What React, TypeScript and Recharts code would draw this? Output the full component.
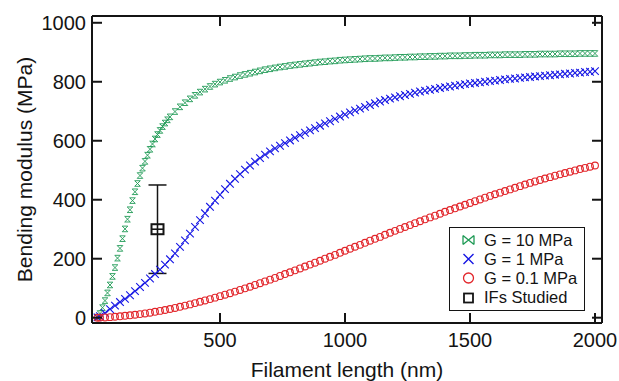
import { ScatterChart, Scatter, XAxis, YAxis, ErrorBar, Legend, Label } from 'recharts';

const FONT = '"Liberation Sans", Arial, Helvetica, sans-serif';
const GREEN = '#1e9a55';
const BLUE = '#1616e4';
const RED = '#e2262b';
const INK = '#141414';

// G = 10 MPa, fine steps where the curve is steep
const greenLengths = [
  10, 20, 30, 40, 50, 60, 70, 80, 90, 100, 110, 120, 130, 140, 150, 160, 170, 180, 190, 200,
  210, 220, 230, 240, 250, 260, 270, 280, 290, 300,
  320, 340, 360, 380, 400, 420, 440, 460, 480, 500, 520, 540, 560, 580, 600, 620, 640, 660, 680,
  700, 720, 740, 760, 780, 800, 820, 840, 860, 880, 900, 920, 940, 960, 980, 1000, 1020, 1040, 1060, 1080,
  1100, 1120, 1140, 1160, 1180, 1200, 1220, 1240, 1260, 1280, 1300, 1320, 1340, 1360, 1380, 1400, 1420, 1440, 1460, 1480,
  1500, 1520, 1540, 1560, 1580, 1600, 1620, 1640, 1660, 1680, 1700, 1720, 1740, 1760, 1780, 1800, 1820, 1840, 1860, 1880,
  1900, 1920, 1940, 1960, 1980, 2000,
];
const greenModulus = [
  2, 14, 34, 58, 84, 111, 140, 170, 202, 235, 268, 301, 334, 366, 397, 427, 455, 482, 507, 530,
  551, 571, 589, 606, 621, 635, 648, 660, 671, 681,
  699, 715, 729, 742, 754, 765, 775, 784, 792, 799, 805, 811, 816, 821, 825, 829, 833, 837, 841,
  844, 847, 850, 852, 855, 857, 859, 861, 863, 865, 867, 868, 870, 871, 873, 874, 875, 876, 877, 878,
  879, 879, 880, 881, 881, 882, 883, 883, 884, 884, 885, 885, 886, 886, 887, 887, 888, 888, 888, 889,
  889, 890, 890, 890, 891, 891, 891, 892, 892, 892, 892, 893, 893, 893, 894, 894, 894, 894, 895, 895,
  895, 895, 896, 896, 896, 896,
];

// G = 1 MPa and G = 0.1 MPa share the same lengths
const lengths = [
  10,
  20, 40, 60, 80, 100, 120, 140, 160, 180, 200,
  220, 240, 260, 280, 300, 320, 340, 360, 380, 400,
  420, 440, 460, 480, 500, 520, 540, 560, 580, 600,
  620, 640, 660, 680, 700, 720, 740, 760, 780, 800,
  820, 840, 860, 880, 900, 920, 940, 960, 980, 1000,
  1020, 1040, 1060, 1080, 1100, 1120, 1140, 1160, 1180, 1200,
  1220, 1240, 1260, 1280, 1300, 1320, 1340, 1360, 1380, 1400,
  1420, 1440, 1460, 1480, 1500, 1520, 1540, 1560, 1580, 1600,
  1620, 1640, 1660, 1680, 1700, 1720, 1740, 1760, 1780, 1800,
  1820, 1840, 1860, 1880, 1900, 1920, 1940, 1960, 1980, 2000,
];
const blueModulus = [
  1,
  5, 16, 29, 41, 53, 64, 76, 90, 104, 118,
  133, 148, 163, 180, 198, 218, 240, 262, 285, 308,
  331, 354, 376, 397, 417, 436, 454, 471, 487, 502,
  516, 529, 541, 553, 564, 574, 583, 592, 601, 610,
  619, 627, 635, 643, 651, 659, 666, 674, 682, 689,
  696, 703, 709, 715, 721, 727, 733, 738, 743, 747,
  751, 755, 759, 763, 767, 770, 773, 776, 779, 782,
  784, 787, 789, 792, 794, 796, 798, 800, 802, 804,
  806, 808, 810, 811, 813, 815, 816, 818, 819, 821,
  822, 824, 825, 827, 828, 830, 831, 833, 834, 836,
];
const redModulus = [
  0,
  0.3, 0.9, 1.8, 3.2, 4.8, 6.4, 8.1, 10, 12.1, 14.4,
  17, 20, 23, 26, 29.5, 33, 37, 41, 45, 49.5,
  54, 58.5, 63, 68, 73, 78, 83, 88.5, 94, 99.5,
  105, 111, 117, 123, 129, 135, 141.5, 148, 154, 160.5,
  167, 173.5, 180, 186.5, 193, 200, 206.5, 213, 220, 227,
  234, 240.5, 247, 254, 261, 267.5, 274, 281, 288, 294.5,
  301, 307.5, 314, 320.5, 327, 333.5, 340, 346, 352.5, 359,
  365, 371, 377, 383, 389, 395, 401, 407, 413, 418.5,
  424, 429.5, 435, 440.5, 446, 451.5, 457, 462, 467, 472,
  476.5, 481.5, 486, 490.5, 495, 499.5, 504, 508, 512, 516,
];

// IFs studied
const studiedLength = [250];
const studiedModulus = [300];
const studiedSpread = [150];

const xTicks = [500, 1000, 1500, 2000];
const yTicks = [0, 200, 400, 600, 800, 1000];
const xDomain = [-12, 2028];
const yDomain = [-18, 1023];

// plot frame (px)
const LEFT = 92;
const RIGHT = 602;
const TOP = 16;
const BOTTOM = 323;
const TICK_LEN = 10;
const LINE_W = 2;

const zip = (xs: number[], ys: number[]) => xs.map((x, i) => ({ x, y: ys[i] }));

const greenData = zip(greenLengths, greenModulus);
const blueData = zip(lengths, blueModulus);
const redData = zip(lengths, redModulus);
const studiedData = studiedLength.map((x, i) => ({ x, y: studiedModulus[i], err: studiedSpread[i] }));

const Hourglass = ({ cx, cy }: any) => {
  const h = 2.8;
  return (
    <path
      d={`M${cx - h},${cy - h}L${cx + h},${cy + h}M${cx + h},${cy - h}L${cx - h},${cy + h}M${cx - h},${cy - h}H${cx + h}M${cx - h},${cy + h}H${cx + h}`}
      stroke={GREEN}
      strokeWidth={0.9}
      fill="none"
    />
  );
};

const Cross = ({ cx, cy }: any) => {
  const h = 3.8;
  return (
    <path
      d={`M${cx - h},${cy - h}L${cx + h},${cy + h}M${cx + h},${cy - h}L${cx - h},${cy + h}`}
      stroke={BLUE}
      strokeWidth={1.1}
      fill="none"
    />
  );
};

const Ring = ({ cx, cy }: any) => <circle cx={cx} cy={cy} r={3.4} stroke={RED} strokeWidth={1.1} fill="none" />;

const Studied = ({ cx, cy }: any) => (
  <g stroke={INK} fill="#fff">
    <rect x={cx - 6} y={cy - 5} width={12} height={10} strokeWidth={2} />
    <line x1={cx - 6} x2={cx + 6} y1={cy} y2={cy} strokeWidth={1.6} />
    <line x1={cx} x2={cx} y1={cy - 5} y2={cy + 5} strokeWidth={1.6} />
  </g>
);

// inward ticks, labels outside
const BottomTick = ({ x, payload }: any) => (
  <g>
    <line x1={x} x2={x} y1={BOTTOM} y2={BOTTOM - TICK_LEN} stroke={INK} strokeWidth={LINE_W} />
    <text x={x} y={BOTTOM + 24} textAnchor="middle" fontFamily={FONT} fontSize={20} fill={INK}>
      {payload.value}
    </text>
  </g>
);
const LeftTick = ({ y, payload }: any) => (
  <g>
    <line x1={LEFT} x2={LEFT + TICK_LEN} y1={y} y2={y} stroke={INK} strokeWidth={LINE_W} />
    <text x={LEFT - 6} y={y} dy="0.36em" textAnchor="end" fontFamily={FONT} fontSize={20} fill={INK}>
      {payload.value}
    </text>
  </g>
);
const TopTick = ({ x }: any) => (
  <line x1={x} x2={x} y1={TOP} y2={TOP + TICK_LEN} stroke={INK} strokeWidth={LINE_W} />
);
const RightTick = ({ y }: any) => (
  <line x1={RIGHT} x2={RIGHT - TICK_LEN} y1={y} y2={y} stroke={INK} strokeWidth={LINE_W} />
);

const legendItems = [
  { label: 'G = 10 MPa', kind: 'bowtie', color: GREEN },
  { label: 'G = 1 MPa', kind: 'cross', color: BLUE },
  { label: 'G = 0.1 MPa', kind: 'ring', color: RED },
  { label: 'IFs Studied', kind: 'square', color: INK },
];

function LegendSymbol({ kind, color }: { kind: string; color: string }) {
  let mark;
  if (kind === 'bowtie') {
    mark = <path d="M1,1.5L12,10.5M12,1.5L1,10.5M1,1.5V10.5M12,1.5V10.5" stroke={color} strokeWidth={1.3} fill="none" />;
  } else if (kind === 'cross') {
    mark = <path d="M1.5,1L11.5,11M11.5,1L1.5,11" stroke={color} strokeWidth={1.4} fill="none" />;
  } else if (kind === 'ring') {
    mark = <circle cx={6.5} cy={6} r={5} stroke={color} strokeWidth={1.3} fill="none" />;
  } else {
    mark = <rect x={2} y={1.5} width={9} height={9} stroke={color} strokeWidth={1.8} fill="none" />;
  }
  return (
    <svg width={13} height={12} style={{ marginRight: 9.5, flex: 'none' }}>
      {mark}
    </svg>
  );
}

function LegendBox() {
  return (
    <div
      style={{
        width: 136,
        height: 84,
        boxSizing: 'border-box',
        border: `1.6px solid ${INK}`,
        background: '#fff',
        padding: '2.5px 0 0 11.5px',
        fontFamily: FONT,
        fontSize: 16.5,
        color: INK,
      }}
    >
      {legendItems.map((it) => (
        <div key={it.label} style={{ display: 'flex', alignItems: 'center', height: 19.2, whiteSpace: 'nowrap' }}>
          <LegendSymbol kind={it.kind} color={it.color} />
          <span>{it.label}</span>
        </div>
      ))}
    </div>
  );
}

const axisLine = { stroke: INK, strokeWidth: LINE_W };

export default function App() {
  return (
    <div style={{ position: 'absolute', left: 0, top: 0, width: 619, height: 381, background: '#fff' }}>
      <ScatterChart width={619} height={381} margin={{ top: TOP - 1, right: 619 - RIGHT - 1, left: 0, bottom: 0 }}>
        <XAxis
          xAxisId={0}
          type="number"
          dataKey="x"
          domain={xDomain}
          ticks={xTicks}
          height={381 - BOTTOM}
          tick={BottomTick}
          tickLine={false}
          axisLine={axisLine}
        >
          <Label
            content={() => (
              <text x={(LEFT + RIGHT) / 2} y={377} textAnchor="middle" fontFamily={FONT} fontSize={21} fill={INK}>
                Filament length (nm)
              </text>
            )}
          />
        </XAxis>
        <XAxis
          xAxisId="top"
          orientation="top"
          type="number"
          dataKey="x"
          domain={xDomain}
          ticks={xTicks}
          height={1}
          tick={TopTick}
          tickLine={false}
          axisLine={axisLine}
        />
        <YAxis
          yAxisId={0}
          type="number"
          dataKey="y"
          domain={yDomain}
          ticks={yTicks}
          width={LEFT}
          tick={LeftTick}
          tickLine={false}
          axisLine={axisLine}
        >
          <Label
            content={() => (
              <text
                x={32}
                y={(TOP + BOTTOM) / 2}
                transform={`rotate(-90 32 ${(TOP + BOTTOM) / 2})`}
                textAnchor="middle"
                fontFamily={FONT}
                fontSize={21}
                fill={INK}
              >
                Bending modulus (MPa)
              </text>
            )}
          />
        </YAxis>
        <YAxis
          yAxisId="right"
          orientation="right"
          type="number"
          dataKey="y"
          domain={yDomain}
          ticks={yTicks}
          width={1}
          tick={RightTick}
          tickLine={false}
          axisLine={axisLine}
        />
        <Scatter name="G = 10 MPa" data={greenData} shape={Hourglass} isAnimationActive={false} />
        <Scatter name="G = 1 MPa" data={blueData} shape={Cross} isAnimationActive={false} />
        <Scatter name="G = 0.1 MPa" data={redData} shape={Ring} isAnimationActive={false} />
        {/* same domains as the main axes; attaching it here makes the mirror axes draw their ticks */}
        <Scatter
          name="IFs Studied"
          xAxisId="top"
          yAxisId="right"
          data={studiedData}
          shape={Studied}
          isAnimationActive={false}
        >
          <ErrorBar dataKey="err" direction="y" width={9} stroke={INK} strokeWidth={1.5} />
        </Scatter>
        <Legend
          layout="vertical"
          align="center"
          verticalAlign="middle"
          content={() => <LegendBox />}
          wrapperStyle={{ left: 449, top: 227, width: 136, height: 84 }}
        />
      </ScatterChart>
    </div>
  );
}
